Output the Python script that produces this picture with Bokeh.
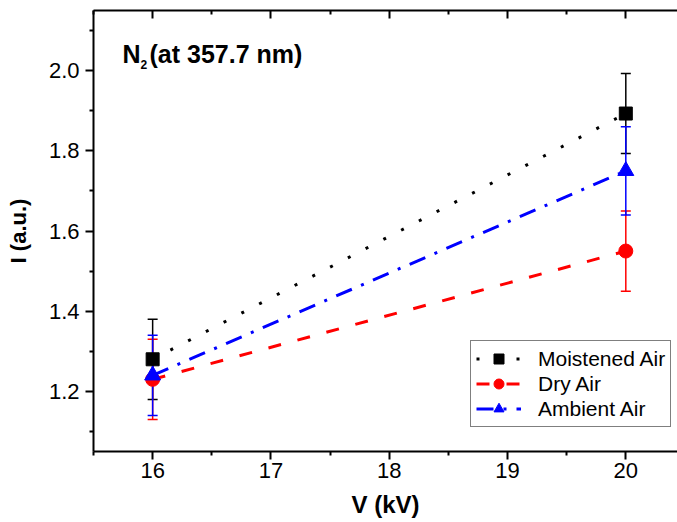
from bokeh.plotting import figure
from bokeh.models import (Range1d, FixedTicker, LinearAxis, CustomJSTickFormatter, Label,
                          Legend, LegendItem, Whisker, TeeHead, ColumnDataSource,
                          PrintfTickFormatter)
from bokeh.embed import file_html
from bokeh.resources import INLINE

# ---- data ----
voltage = [16, 20]
moistened = [1.28, 1.893]
moistened_err = [0.10, 0.10]
dry = [1.23, 1.55]
dry_err = [0.10, 0.10]
ambient = [1.24, 1.75]
ambient_err = [0.10, 0.11]

series_labels = ["Moistened Air", "Dry Air", "Ambient Air"]
x_ticks = [16, 17, 18, 19, 20]
x_minor = [15.5, 16.5, 17.5, 18.5, 19.5, 20.5]
y_ticks = [1.2, 1.4, 1.6, 1.8, 2.0]
y_minor = [1.1, 1.3, 1.5, 1.7, 1.9, 2.1]

FONT = "Liberation Sans"

p = figure(width=677, height=522, output_backend="svg", toolbar_location=None,
           x_range=Range1d(15.5, 20.437), y_range=Range1d(1.05, 2.15),
           x_axis_label="V (kV)", y_axis_label="I (a.u.)",
           min_border_left=93, min_border_right=0, min_border_top=10, min_border_bottom=71)
p.outline_line_color = None
p.xgrid.visible = False
p.ygrid.visible = False
p.background_fill_color = "white"
p.border_fill_color = "white"

xt = FixedTicker(ticks=x_ticks, minor_ticks=x_minor)
yt = FixedTicker(ticks=y_ticks, minor_ticks=y_minor)

for ax in p.xaxis:
    ax.ticker = xt
    ax.major_tick_out = 8
    ax.major_tick_in = 0
    ax.minor_tick_out = 4
    ax.minor_tick_in = 0
    ax.major_label_standoff = 3
    ax.axis_label_standoff = 10
for ax in p.yaxis:
    ax.ticker = yt
    ax.formatter = PrintfTickFormatter(format="%.1f")
    ax.major_tick_out = 8
    ax.major_tick_in = 0
    ax.minor_tick_out = 4
    ax.minor_tick_in = 0
    ax.major_label_standoff = 6
    ax.axis_label_standoff = 15
for ax in list(p.xaxis) + list(p.yaxis):
    ax.axis_line_width = 2
    ax.major_tick_line_width = 2
    ax.minor_tick_line_width = 2
    ax.major_label_text_font = FONT
    ax.major_label_text_font_size = "22px"
    ax.major_label_text_color = "black"
    ax.axis_label_text_font = FONT
    ax.axis_label_text_font_style = "bold"
    ax.axis_label_text_color = "black"
p.xaxis.axis_label_text_font_size = "24px"
p.yaxis.axis_label_text_font_size = "22px"

top = LinearAxis(ticker=xt, formatter=CustomJSTickFormatter(code="return ''"),
                 major_tick_in=8, major_tick_out=0, minor_tick_in=4, minor_tick_out=0,
                 major_label_standoff=0, axis_line_width=2,
                 major_tick_line_width=2, minor_tick_line_width=2,
                 major_label_text_font_size="1px")
p.add_layout(top, "above")

colors = ["black", "red", "blue"]
dashes = ["3 17", "13 17", "17 10 3 10"]
markers = ["square", "circle", "triangle"]
sizes = [13, 14, 16]
values = [moistened, dry, ambient]
errors = [moistened_err, dry_err, ambient_err]

items = []
for lab, col, dash, mk, sz, ys, es in zip(series_labels, colors, dashes, markers, sizes, values, errors):
    lr = p.line(voltage, ys, line_color=col, line_width=3, line_dash=dash)
    src = ColumnDataSource(dict(x=voltage, lo=[y - e for y, e in zip(ys, es)],
                                hi=[y + e for y, e in zip(ys, es)]))
    w = Whisker(base="x", lower="lo", upper="hi", source=src, line_color=col, line_width=1.5,
                upper_head=TeeHead(size=10, line_color=col, line_width=1.5),
                lower_head=TeeHead(size=10, line_color=col, line_width=1.5))
    p.add_layout(w)
    sr = p.scatter(voltage, ys, marker=mk, size=sz, fill_color=col, line_color=col)
    items.append(LegendItem(label=lab, renderers=[lr, sr]))

legend = Legend(items=items, location=(377, 24), border_line_color="black", border_line_width=1,
                background_fill_color="white", background_fill_alpha=1,
                label_text_font=FONT, label_text_font_size="21px", label_text_color="black",
                glyph_width=45, glyph_height=25, label_height=20, label_standoff=17,
                spacing=0, padding=5, margin=0)
p.add_layout(legend)

title_kw = dict(x_units="screen", y_units="screen", text_font=FONT, text_font_style="bold",
                text_color="black", text_baseline="alphabetic")
p.add_layout(Label(x=29, y=398, text="N", text_font_size="25px", **title_kw))
p.add_layout(Label(x=47, y=387, text="2", text_font_size="12px", **title_kw))
p.add_layout(Label(x=56, y=398, text="(at 357.7 nm)", text_font_size="25px", **title_kw))

open("out.html", "w").write(file_html(p, INLINE))
